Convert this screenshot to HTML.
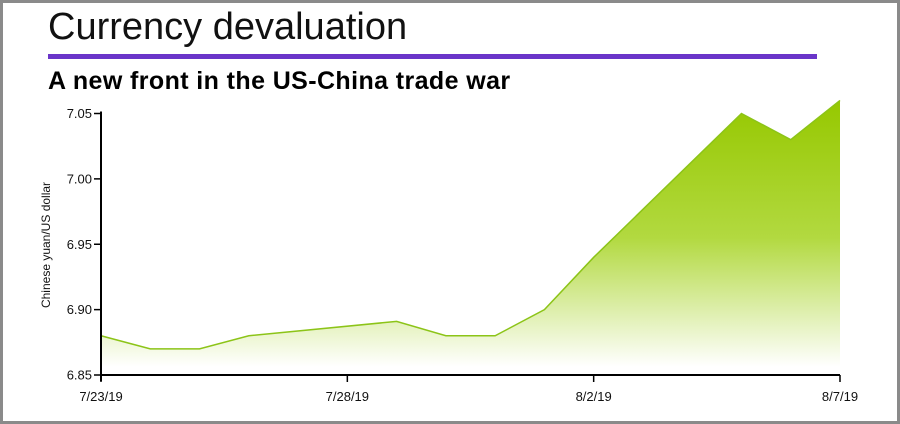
<!DOCTYPE html>
<html><head><meta charset="utf-8"><style>
html,body{margin:0;padding:0;background:#fff}
#frame{position:absolute;left:0;top:0;width:894px;height:418px;border:3px solid #8a8a8a;background:#fff}
#title{position:absolute;left:48px;top:6px;font:300 38px "Liberation Sans",sans-serif;color:#111;letter-spacing:0px;margin:0}
#rule{position:absolute;left:48px;top:54px;width:769px;height:5px;background:#6a35c9}
#sub{position:absolute;left:48px;top:67px;font:bold 25px "Liberation Sans",sans-serif;color:#000;margin:0;letter-spacing:0.4px}
svg{position:absolute;left:0;top:0}
</style></head><body>
<div id="frame"></div>
<h1 id="title">Currency devaluation</h1>
<div id="rule"></div>
<h2 id="sub">A new front in the US-China trade war</h2>
<svg id="chart" width="900" height="424">
<defs><linearGradient id="g" x1="0" y1="0" x2="0" y2="1">
<stop offset="0" stop-color="#96c800"/><stop offset="0.5" stop-color="#b2d940"/><stop offset="0.97" stop-color="#ffffff"/></linearGradient></defs>
</svg>
<script>
const dayOffsets=[0,1,2,3,6,7,8,9,10,13,14,15];
const rates=[6.88,6.87,6.87,6.88,6.891,6.88,6.88,6.90,6.94,7.05,7.03,7.06];
const yTicks=[6.85,6.90,6.95,7.00,7.05];
const yTickLabels=["6.85","6.90","6.95","7.00","7.05"];
const xTickDays=[0,5,10,15];
const xTickLabels=["7/23/19","7/28/19","8/2/19","8/7/19"];
const NS="http://www.w3.org/2000/svg";
const svg=document.getElementById('chart');
const x0=101,x1=840,yB=375,yT=113.5;
const xs=d=>x0+(x1-x0)*d/15;
const ys=v=>yB-(yB-yT)*(v-6.85)/0.2;
function mk(t,a){const e=document.createElementNS(NS,t);for(const k in a)e.setAttribute(k,a[k]);svg.appendChild(e);return e;}
let pts=dayOffsets.map((d,i)=>xs(d)+','+ys(rates[i]));
const area=mk('polygon',{points:xs(0)+','+yB+' '+pts.join(' ')+' '+xs(15)+','+yB,fill:'url(#g)'});


const line=mk('polyline',{points:pts.join(' '),fill:'none',stroke:'#8cc418','stroke-width':1.5});


const ya=mk('line',{x1:x0,y1:yT-2,x2:x0,y2:yB+6,stroke:'#000','stroke-width':2});


const xa=mk('line',{x1:x0,y1:yB,x2:x1,y2:yB,stroke:'#000','stroke-width':2});


yTicks.forEach((v,i)=>{
 const tk=mk('line',{x1:x0-7,y1:ys(v),x2:x0,y2:ys(v),stroke:'#000','stroke-width':1.5});
 
 
 const t=mk('text',{x:x0-9,y:ys(v)+4.5,'text-anchor':'end','font-family':'Liberation Sans,sans-serif','font-size':13,fill:'#111'});
 t.textContent=yTickLabels[i];
 
 
});
xTickDays.forEach((d,i)=>{
 const tk=mk('line',{x1:xs(d),y1:yB,x2:xs(d),y2:yB+7,stroke:'#000','stroke-width':1.5});
 
 
 const t=mk('text',{x:xs(d),y:yB+26,'text-anchor':'middle','font-family':'Liberation Sans,sans-serif','font-size':13,fill:'#111'});
 t.textContent=xTickLabels[i];
 
 
});
const yt=mk('text',{x:0,y:0,transform:'translate(50,245) rotate(-90)','text-anchor':'middle','font-family':'Liberation Sans,sans-serif','font-size':12,fill:'#111'});
yt.textContent='Chinese yuan/US dollar';


</script>
</body></html>
